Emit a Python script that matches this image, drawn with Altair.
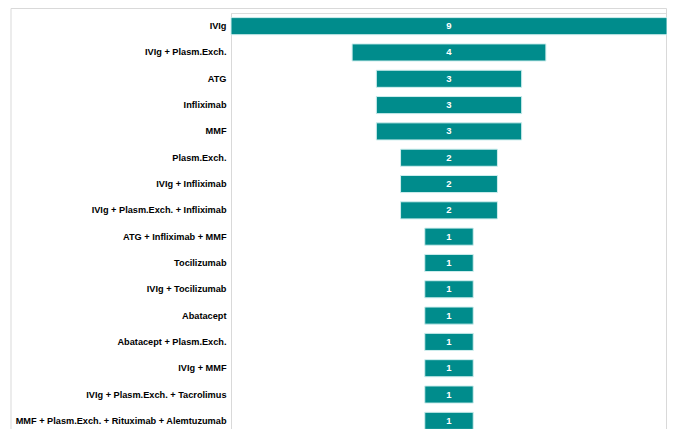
import altair as alt
import pandas as pd

categories = [
    "IVIg", "IVIg + Plasm.Exch.", "ATG", "Infliximab", "MMF", "Plasm.Exch.",
    "IVIg + Infliximab", "IVIg + Plasm.Exch. + Infliximab", "ATG + Infliximab + MMF",
    "Tocilizumab", "IVIg + Tocilizumab", "Abatacept", "Abatacept + Plasm.Exch.",
    "IVIg + MMF", "IVIg + Plasm.Exch. + Tacrolimus",
    "MMF  + Plasm.Exch. + Rituximab + Alemtuzumab",
]
counts = [9, 4, 3, 3, 3, 2, 2, 2, 1, 1, 1, 1, 1, 1, 1, 1]

df = pd.DataFrame({"treatment": categories, "count": counts})

W, H = 436, 416
FONT = "Liberation Sans"

y_enc = alt.Y("treatment:N", sort=categories, title=None,
              scale=alt.Scale(paddingInner=0.35, paddingOuter=0.175, range=[0, 421]),
              axis=alt.Axis(labelFont=FONT, labelFontSize=9.2, labelFontWeight="bold",
                            labelColor="#000000", ticks=False, labelPadding=5,
                            domainColor="#d9d9d9", domainWidth=1, labelLimit=300))

xscale = alt.Scale(domain=[-4.5, 4.5], nice=False, zero=False)

base = alt.Chart(df).transform_calculate(lo="-datum.count/2", hi="datum.count/2", mid="0")

frame = alt.Chart(df).mark_rect(fill=None, stroke="#d9d9d9", strokeWidth=1).encode(
    x=alt.value(-220), x2=alt.value(435.5), y=alt.value(-4.5), y2=alt.value(460)
).transform_filter("datum.count == 9")

bars = base.mark_bar(color="#008C8C", stroke="#cfeeee", strokeWidth=1).encode(
    y=y_enc,
    x=alt.X("lo:Q", scale=xscale, axis=None),
    x2="hi:Q",
)

labels = base.mark_text(color="white", font=FONT, fontSize=9.5, fontWeight="bold").encode(
    y=alt.Y("treatment:N", sort=categories),
    x=alt.X("mid:Q", scale=xscale, axis=None),
    text="count:Q",
)

chart = alt.layer(frame, bars, labels).properties(
    width=W, height=H,
    autosize=alt.AutoSizeParams(type="none"),
    padding={"left": 223, "top": 5, "right": 0, "bottom": 0},
).configure_view(stroke=None).configure(background="white")

chart.save("out.html", embed_options={"renderer": "svg", "actions": False})
